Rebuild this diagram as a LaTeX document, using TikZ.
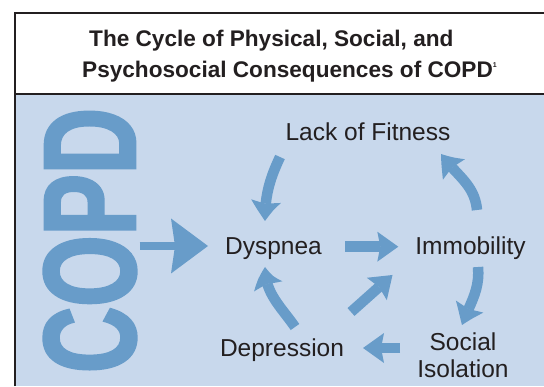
\documentclass[tikz,border=0pt]{standalone}
\usepackage{fontspec}
\setmainfont{Liberation Sans}
\newfontfamily\copdfont[FakeStretch=0.7, FakeBold=2]{Liberation Sans}
\usetikzlibrary{arrows.meta, bending, positioning}
\definecolor{copdblue}{HTML}{689CC9}
\definecolor{panelblue}{HTML}{C8D8EC}
\definecolor{inkdark}{HTML}{231F20}

\begin{document}
\begin{tikzpicture}[
    x=1pt, y=1pt,
    heading/.style={anchor=base west, inner sep=0pt, font=\fontsize{22.6}{26}\selectfont\bfseries, text=inkdark},
    stage/.style={anchor=base, inner sep=0pt, align=center, font=\fontsize{24.5}{27}\selectfont, text=inkdark},
    copdword/.style={rotate=90, inner sep=0pt, text=copdblue, font=\copdfont\bfseries\fontsize{131}{131}\selectfont},
    cyclearrow/.style={draw=copdblue, line width=10.5pt, -{Stealth[length=21pt, width=30pt, inset=3pt, line width=0pt, bend]}},
    bigarrow/.style={draw=copdblue, line width=8.5pt, -{Stealth[length=37pt, width=55pt, inset=4pt, line width=0pt]}}
]

    % Frame
    \useasboundingbox (0,0) rectangle (544,386);
    \fill[white] (0,0) rectangle (544,386);
    \fill[panelblue] (14.5,0) rectangle (544,292);
    \draw[inkdark, line width=2pt] (14.5,0) -- (14.5,373) -- (544,373);
    \draw[inkdark, line width=2pt] (14.5,292) -- (544,292);

    % Title
    \node[heading] (title1) at (89,339) {The Cycle of Physical, Social, and};
    \node[heading] (title2) at (82,308) {Psychosocial Consequences of COPD\raisebox{10pt}{\fontsize{7}{7}\selectfont 1}};

    % Components
    \node[copdword] (copd) at (90,145.5) {COPD};
    \node[stage] (dys) at (273.5,131) {Dyspnea};
    \node[stage] (imm) at (470.5,131) {Immobility};
    \node[stage] (fit) at (368,245) {Lack of Fitness};
    \node[stage] (soc) at (463,9) {Social\\Isolation};
    \node[stage] (dep) at (282,30) {Depression};
    \coordinate (copdtip) at ([shift={(-65.5,9)}]dys.base);

    % Connections
    \draw[bigarrow, shorten <=3pt] (copd.south |- copdtip) -- (copdtip);
    \draw[cyclearrow] ([shift={(71.5,8.3)}]dys.base) -- ([shift={(-72.2,8.3)}]imm.base);
    \draw[cyclearrow] ([shift={(6.5,45)}]imm.base) to[out=95, in=-55] ([shift={(73,-13)}]fit.base);
    \draw[cyclearrow] ([shift={(-88,-16)}]fit.base) to[out=245, in=90] ([shift={(-8.5,34)}]dys.base);
    \draw[cyclearrow] ([shift={(7.5,-12)}]imm.base) to[out=-85, in=70] ([shift={(-1,52)}]soc.base);
    \draw[cyclearrow] ([shift={(-63,29)}]soc.base) -- ([shift={(81,8)}]dep.base);
    \draw[cyclearrow] ([shift={(13,29)}]dep.base) to[out=125, in=-90] ([shift={(-8.5,-12)}]dys.base);
    \draw[cyclearrow] ([shift={(69,44)}]dep.base) -- ([shift={(-78,-20)}]imm.base);

\end{tikzpicture}
\end{document}
